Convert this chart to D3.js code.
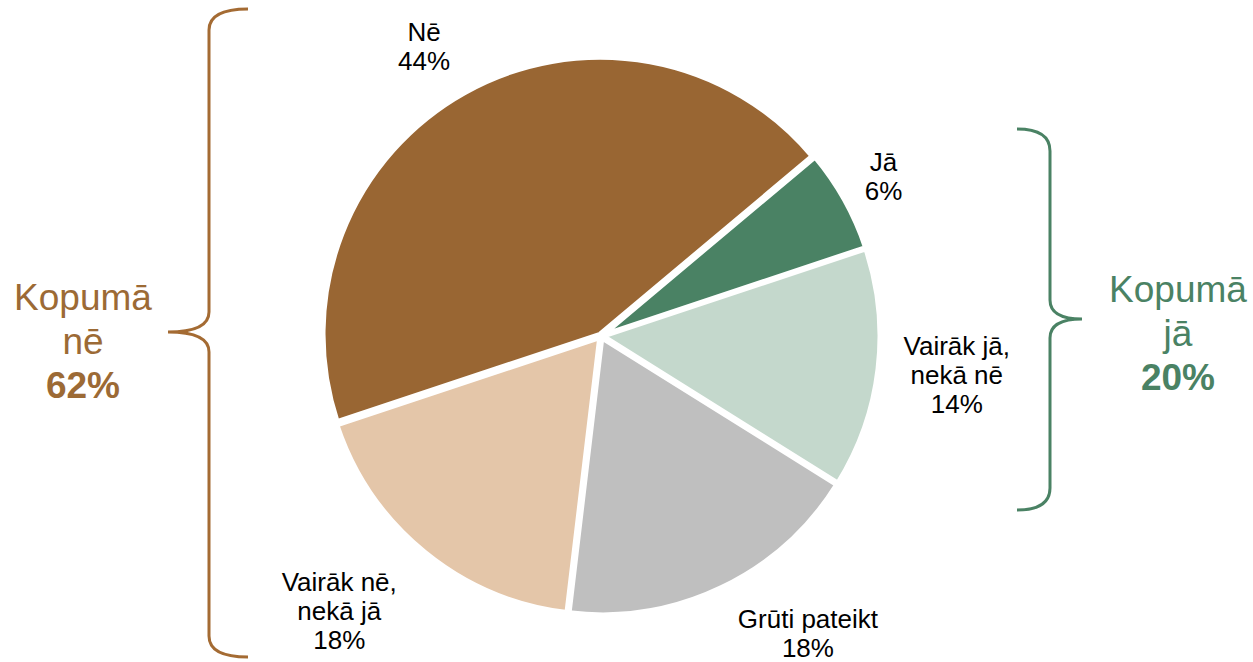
<!DOCTYPE html>
<html lang="lv">
<head>
<meta charset="utf-8">
<script src="https://cdn.jsdelivr.net/npm/d3@7"></script>
<style>
  html, body { margin: 0; padding: 0; background: #ffffff; }
  svg { display: block; font-family: "Liberation Sans", Arial, sans-serif; }
</style>
</head>
<body>
<svg id="chart" width="1253" height="662"></svg>
<script>
// Answer categories, clockwise from the "Jā" slice
const categories = ["Jā", "Vairāk jā, nekā nē", "Grūti pateikt", "Vairāk nē, nekā jā", "Nē"];
const labelLines = [["Jā"], ["Vairāk jā,", "nekā nē"], ["Grūti pateikt"], ["Vairāk nē,", "nekā jā"], ["Nē"]];
const values = [6, 14, 18, 18, 44];
const colors = ["#4a8264", "#c4d8cc", "#bfbfbf", "#e4c6a9", "#996633"];

// Group totals shown beside the braces
const groupTitles = [["Kopumā", "nē"], ["Kopumā", "jā"]];
const groupValues = [62, 20];
const groupColors = ["#9c6a35", "#4a8264"];

const svg = d3.select("#chart");
const cx = 601, cy = 336, R = 277;

const deg = Math.PI / 180;
const pie = d3.pie().sort(null).value(d => d)
  .startAngle(50 * deg).endAngle(50 * deg + 2 * Math.PI);
const arcs = pie(values);
const arc = d3.arc().innerRadius(0).outerRadius(R);

const g = svg.append("g").attr("transform", `translate(${cx},${cy})`);

// Slices, nudged a little away from the centre and separated by white strokes
const explode = 2;
g.selectAll("path.slice")
  .data(arcs)
  .join("path")
  .attr("class", "slice")
  .attr("d", arc)
  .attr("fill", (d, i) => colors[i])
  .attr("stroke", "#ffffff")
  .attr("stroke-width", 5)
  .attr("stroke-linejoin", "miter")
  .attr("transform", d => {
    const a = (d.startAngle + d.endAngle) / 2;
    return `translate(${explode * Math.sin(a)},${-explode * Math.cos(a)})`;
  });

// Slice labels placed outside the pie (angle in degrees clockwise from top, distance from centre)
const labelAngle = [62, 97.7, 146, 222.7, 327.8];
const labelDist = [320, 359, 370, 386, 332];
const fontSize = 26, lineH = 29;

arcs.forEach((d, i) => {
  const a = labelAngle[i] * deg;
  const x = labelDist[i] * Math.sin(a);
  const y = -labelDist[i] * Math.cos(a);
  const lines = labelLines[i].concat([d.data + "%"]);
  const t = g.append("text")
    .attr("text-anchor", "middle")
    .attr("font-size", fontSize)
    .attr("fill", "#000000");
  lines.forEach((ln, j) => {
    t.append("tspan")
      .attr("x", x)
      .attr("y", y + (j - (lines.length - 1) / 2) * lineH)
      .text(ln);
  });
});

// Curly braces grouping the negative and positive answers
function brace(xLine, xEnd, xTip, yTop, yMid, yBot, rTop, rMid) {
  const p = d3.path();
  p.moveTo(xEnd, yTop);
  p.quadraticCurveTo(xLine, yTop, xLine, yTop + rTop);
  p.lineTo(xLine, yMid - rMid);
  p.quadraticCurveTo(xLine, yMid, xTip, yMid);
  p.quadraticCurveTo(xLine, yMid, xLine, yMid + rMid);
  p.lineTo(xLine, yBot - rTop);
  p.quadraticCurveTo(xLine, yBot, xEnd, yBot);
  return p.toString();
}

svg.append("path")
  .attr("d", brace(209, 248, 168, 9, 332, 657, 21, 20))
  .attr("fill", "none")
  .attr("stroke", "#a46b33")
  .attr("stroke-width", 3);

svg.append("path")
  .attr("d", brace(1050, 1017, 1082, 129, 319, 510, 22, 19))
  .attr("fill", "none")
  .attr("stroke", "#4a8264")
  .attr("stroke-width", 3);

// Group totals
const groupX = [83, 1178];
const groupY = [310, 302];
const bigSize = 37, bigLine = 44;
groupTitles.forEach((title, i) => {
  const t = svg.append("text")
    .attr("text-anchor", "middle")
    .attr("font-size", bigSize)
    .attr("fill", groupColors[i]);
  title.forEach((ln, j) => {
    t.append("tspan").attr("x", groupX[i]).attr("y", groupY[i] + j * bigLine).text(ln);
  });
  t.append("tspan")
    .attr("x", groupX[i])
    .attr("y", groupY[i] + title.length * bigLine)
    .attr("font-weight", "bold")
    .text(groupValues[i] + "%");
});
</script>
</body>
</html>
